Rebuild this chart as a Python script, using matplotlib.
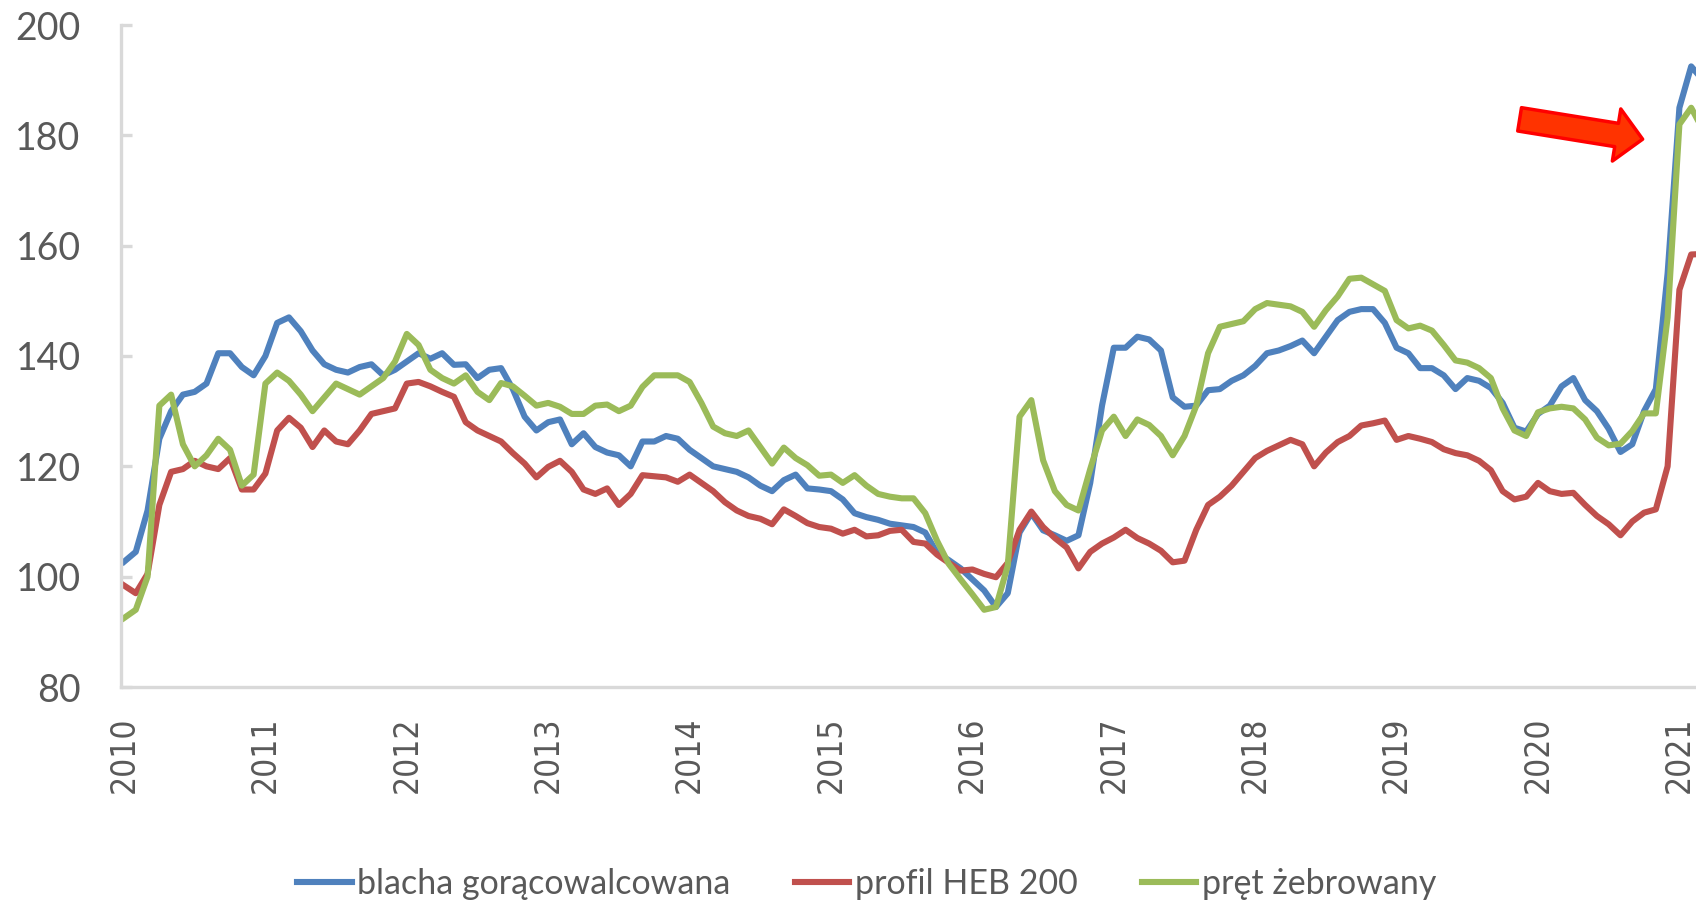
import numpy as np
import pandas as pd
import matplotlib
matplotlib.use("Agg")
import matplotlib.pyplot as plt
from matplotlib.patches import FancyArrowPatch

# monthly readings, Jan 2010 .. Mar 2021
months = pd.date_range("2010-01-01", periods=135, freq="MS")

blacha = [
    102.7, 104.5, 112, 125, 130, 133, 133.5, 135, 140.5, 140.5, 138, 136.5,
    140, 146, 147, 144.5, 141, 138.5, 137.5, 137, 138, 138.5, 136.5, 137.5,
    139, 140.5, 139.5, 140.5, 138.4, 138.5, 136, 137.5, 137.8, 134, 129, 126.5,
    128, 128.5, 124, 126, 123.5, 122.5, 122, 120, 124.5, 124.5, 125.5, 125,
    123, 121.5, 120, 119.5, 119, 118, 116.5, 115.5, 117.5, 118.5, 116, 115.8,
    115.5, 114, 111.5, 110.8, 110.3, 109.6, 109.3, 109, 108, 104.3, 103, 101.5,
    99.5, 97.5, 94.5, 97, 108, 111.5, 108.4, 107.5, 106.5, 107.5, 117, 131,
    141.5, 141.5, 143.5, 143, 141, 132.5, 130.8, 131, 133.8, 134, 135.5, 136.5,
    138.2, 140.5, 141, 141.8, 142.8, 140.5, 143.5, 146.5, 148, 148.5, 148.5, 146,
    141.5, 140.5, 137.8, 137.8, 136.5, 134, 136, 135.5, 134.2, 131.5, 127, 126.3,
    129.5, 131, 134.5, 136, 132, 130, 126.8, 122.6, 124, 130, 134, 155,
    185, 192.5, 190,
]

profil = [
    98.4, 97, 100.5, 113, 119, 119.5, 121, 120, 119.5, 121.5, 115.8, 115.8,
    118.7, 126.5, 128.8, 127, 123.5, 126.5, 124.5, 124, 126.5, 129.5, 130, 130.5,
    135, 135.3, 134.5, 133.5, 132.6, 128, 126.5, 125.5, 124.5, 122.4, 120.5, 118,
    119.9, 121, 119, 115.8, 115, 116, 113, 115, 118.4, 118.2, 118, 117.2,
    118.5, 117, 115.5, 113.5, 112, 111, 110.5, 109.5, 112.2, 111, 109.7, 109,
    108.7, 107.8, 108.5, 107.3, 107.5, 108.3, 108.5, 106.3, 106, 104, 102.5, 101.1,
    101.3, 100.5, 99.9, 102.5, 108.5, 111.8, 109, 107, 105.3, 101.5, 104.5, 106,
    107.1, 108.5, 107, 106, 104.7, 102.6, 102.9, 108.5, 113, 114.5, 116.5, 119,
    121.5, 122.8, 123.8, 124.8, 124, 120, 122.5, 124.4, 125.5, 127.4, 127.8, 128.3,
    124.8, 125.5, 125, 124.4, 123.1, 122.4, 122, 121, 119.3, 115.5, 114, 114.5,
    117, 115.5, 115, 115.2, 113, 111, 109.5, 107.5, 110, 111.6, 112.2, 120,
    152, 158.4, 158.5,
]

pret = [
    92.5, 94, 100, 131, 133, 124, 120, 122, 125, 123, 116.5, 118.5,
    135, 137, 135.5, 133, 130, 132.5, 135, 134, 133, 134.5, 136, 139,
    144, 142, 137.5, 136, 135, 136.5, 133.5, 132, 135.1, 134.5, 132.8, 131,
    131.5, 130.8, 129.5, 129.5, 131, 131.2, 130, 131, 134.4, 136.5, 136.5, 136.5,
    135.3, 131.5, 127.2, 126, 125.5, 126.5, 123.5, 120.5, 123.4, 121.5, 120.2, 118.3,
    118.5, 117, 118.4, 116.5, 115, 114.5, 114.2, 114.2, 111.5, 106.5, 102.3, 99.5,
    96.8, 94, 94.5, 102, 129, 132, 121.1, 115.5, 113, 112, 119.5, 126.5,
    129, 125.5, 128.5, 127.5, 125.5, 122, 125.5, 131, 140.5, 145.3, 145.8, 146.3,
    148.5, 149.6, 149.3, 149, 148, 145.3, 148.3, 150.8, 154, 154.2, 153, 151.8,
    146.5, 145, 145.5, 144.6, 142, 139.2, 138.8, 137.8, 136, 130.5, 126.5, 125.5,
    129.8, 130.5, 130.8, 130.5, 128.5, 125.2, 123.8, 124.1, 126.4, 129.6, 129.6, 147,
    182, 185, 181,
]

series_names = ["blacha gorącowalcowana", "profil HEB 200", "pręt żebrowany"]
series_colors = ["#4F81BD", "#C0504D", "#9BBB59"]
years = list(range(2010, 2022))
y_ticks = [80, 100, 120, 140, 160, 180, 200]

x = months.year + (months.month - 1) / 12.0

fig = plt.figure(figsize=(16.96, 9.01), dpi=100)
ax = fig.add_axes([121 / 1696, 214 / 901, 1575 / 1696, 662 / 901])

for vals, name, col in zip([blacha, profil, pret], series_names, series_colors):
    ax.plot(x, vals, color=col, lw=4.4, label=name, solid_joinstyle="round")

ax.set_xlim(2010 - 3 / 141.4, 2010 + 1572 / 141.4)
ax.set_ylim(80, 200)

grey = "#D9D9D9"
txt = "#595959"
for s in ["top", "right"]:
    ax.spines[s].set_visible(False)
for s in ["left", "bottom"]:
    ax.spines[s].set_color(grey)
    ax.spines[s].set_linewidth(2.4)

ax.set_yticks(y_ticks)
ax.set_yticklabels([str(v) for v in y_ticks], fontfamily="Lato", fontsize=27, color=txt)
ax.tick_params(axis="y", direction="in", length=8, width=2.4, color=grey, pad=29)

ax.set_xticks(years)
ax.set_xticklabels([str(v) for v in years], rotation=90, fontfamily="DejaVu Sans",
                   fontstretch="condensed", fontsize=24, color=txt, va="top")
ax.tick_params(axis="x", length=0, pad=21)

# red arrow pointing at the 2021 jump
arrow = FancyArrowPatch((2019.87, 182.9), (2020.74, 179.3),
                        arrowstyle="Simple, tail_width=17, head_width=38, head_length=19",
                        mutation_scale=1, shrinkA=0, shrinkB=0,
                        facecolor="#FF3300", edgecolor="#FF0000", lw=2.5, zorder=5)
ax.add_patch(arrow)

leg = fig.legend(loc="center", bbox_to_anchor=(0.511, 0.0185), ncol=3, frameon=False,
                 prop={"family": "Lato", "size": 24.5}, handlelength=1.6,
                 handletextpad=0.15, columnspacing=1.9)
for t in leg.get_texts():
    t.set_color(txt)

fig.savefig("out.png", dpi=100)
